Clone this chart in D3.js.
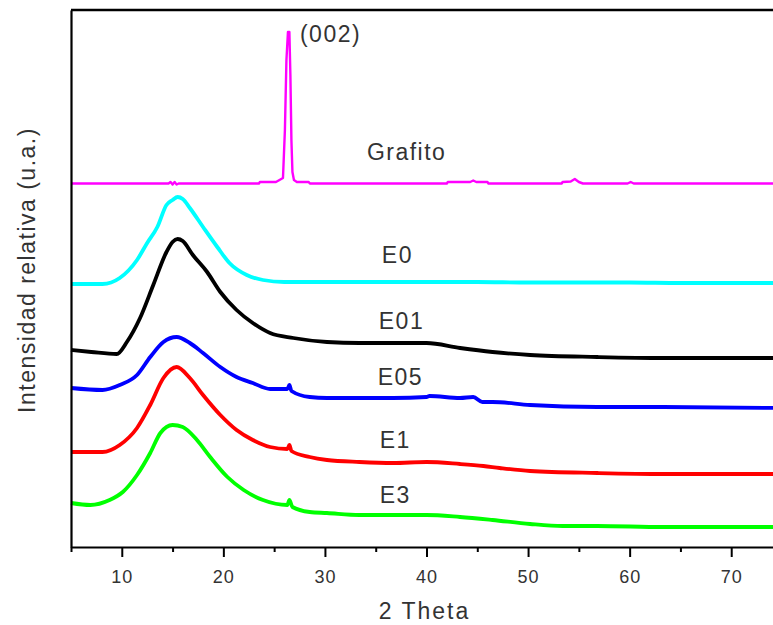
<!DOCTYPE html>
<html>
<head>
<meta charset="utf-8">
<script src="https://cdn.jsdelivr.net/npm/d3@7"></script>
<style>
  html, body { margin: 0; padding: 0; background: #fff; }
  svg { display: block; }
  text { font-family: "Liberation Sans", Arial, sans-serif; fill: #333; }
</style>
</head>
<body>
<svg id="chart" width="773" height="625"></svg>
<script>
// ---- Data (2 Theta, relative intensity in a.u., stacked offsets as in the figure) ----
const grafito = [[5,363.5],[14.6,363.5],[14.8,365],[15.0,362.5],[15.2,365],[15.4,362.5],[15.6,363.5],[23.5,363.5],[23.6,365],[25.18,365],[25.87,369],[26.06,417],[26.21,487],[26.36,515],[26.5,515],[26.6,472],[26.7,407],[26.8,375],[26.95,367],[27.24,365],[28.4,365],[28.52,363.5],[42.0,363.5],[42.1,365],[44.3,365],[44.6,366.5],[44.9,365],[46.0,365],[46.1,363.5],[53.3,363.5],[53.4,365],[54.2,365.5],[54.6,368],[55.0,365],[55.4,363.5],[59.8,363.5],[60.1,365],[60.4,363.5],[75,363.5]];
const e0 = [[5,263],[8.1,263],[9.8,269],[11.5,287],[12.5,304],[13.5,320],[14.4,342],[15.0,347],[15.5,350],[16.0,348],[16.7,339],[18,320],[19.4,300],[20.6,284],[22.3,272],[23.9,267],[26,265],[30,265],[35,265],[40,265],[45,265],[50,264.5],[55,264.5],[60,264.5],[65,264],[70,264],[75,264]];
const e01 = [[5,197],[7,195],[9.5,193],[10.5,205],[11.8,229],[13.1,262],[14.4,295],[15,305],[15.5,308],[16,306],[17,292],[18.4,275],[19.7,255],[21.3,237],[22.9,224],[24.6,214],[26.9,209],[30.2,205],[33.4,204],[36.7,204],[40,204],[43.3,199],[46.5,195],[50.2,192],[56.8,190],[63.3,189],[75,189]];
const e05 = [[5,159],[8.1,157],[9.8,162],[11.5,172],[12.8,190],[14.1,205],[15.4,210],[16.7,204],[18,194],[19.7,180],[21.3,170],[22.9,164],[24.6,158],[26.3,158],[26.5,162],[26.7,156],[28.5,150],[30.2,149],[33.4,149],[36.7,149],[40,150],[40.3,151],[43.3,149],[44.6,150],[45.5,145],[46.5,145],[50.2,142],[56.8,140],[63.3,140],[75,139]];
const e1 = [[5,95],[8.1,95],[9.8,102],[11.5,119],[12.8,142],[14.1,169],[15.4,180],[16.7,169],[18,152],[19.7,132],[21.3,117],[22.9,107],[24.6,100],[26.3,98],[26.5,102],[26.7,96],[28.5,90],[30.2,87],[33.4,85],[36.7,84],[40,85],[43.3,83],[45.6,81],[47.2,79],[50.2,76],[56.8,74],[63.3,73],[75,73]];
const e3 = [[5,44],[6.9,42],[8.8,47],[10.1,55],[11.5,72],[12.8,94],[13.8,114],[15,122],[16,120],[17.4,107],[18.7,90],[20.4,70],[22,57],[23.9,47],[26.3,42],[26.5,47],[26.8,40],[28.5,35],[30.2,34],[33.4,32],[36.7,32],[40,32],[43.3,30],[46.5,27],[50.2,23],[53.4,21],[56.8,21],[63.3,20],[75,20]];

const seriesNames = ["Grafito","E0","E01","E05","E1","E3"];
const seriesData = [grafito, e0, e01, e05, e1, e3];
const seriesColors = ["#ff00ff","#00ffff","#000000","#0000ff","#ff0000","#00ff00"];

const labelTexts = ["(002)","Grafito","E0","E01","E05","E1","E3"];
const labelX = [27.54, 34.13, 35.6, 35.3, 35.2, 35.4, 35.4];
const labelY = [505, 387, 284, 218, 162, 99, 44];

const xMajorTicks = [10,20,30,40,50,60,70];
const xMinorTicks = [5,15,25,35,45,55,65,75];
const xDomain = [5, 75];
const yDomain = [0, 537];

// ---- Layout ----
const svg = d3.select("#chart");
const mLeft = 71, mRight = 782, mTop = 10, mBottom = 547;

const x = d3.scaleLinear().domain(xDomain).range([mLeft, mRight]);
const y = d3.scaleLinear().domain(yDomain).range([mBottom, mTop]);

// curves
const lineSharp = d3.line().x(d => x(d[0])).y(d => y(d[1])).curve(d3.curveLinear);
const lineSmooth = d3.line().x(d => x(d[0])).y(d => y(d[1])).curve(d3.curveMonotoneX);
seriesData.forEach((data, i) => {
  svg.append("path")
    .datum(data)
    .attr("fill", "none")
    .attr("stroke", seriesColors[i])
    .attr("stroke-width", i === 0 ? 2.4 : 3.8)
    .attr("stroke-linejoin", "round")
    .attr("d", i === 0 ? lineSharp : lineSmooth);
});

// top border
svg.append("line")
  .attr("x1", mLeft).attr("x2", mRight)
  .attr("y1", mTop).attr("y2", mTop)
  .attr("stroke", "#000").attr("stroke-width", 2.5);

// x axis minor ticks
svg.append("g")
  .attr("transform", `translate(0,${mBottom})`)
  .call(d3.axisBottom(x).tickValues(xMinorTicks).tickSize(5).tickSizeOuter(0).tickFormat(""))
  .call(g => g.selectAll("line").attr("stroke-width", 2))
  .call(g => g.select(".domain").remove());

// x axis major
const gx = svg.append("g")
  .attr("transform", `translate(0,${mBottom})`)
  .call(d3.axisBottom(x).tickValues(xMajorTicks).tickSize(10).tickSizeOuter(0).tickPadding(13).tickFormat(d3.format("d")));
gx.select(".domain").attr("stroke-width", 2.2);
gx.selectAll(".tick line").attr("stroke-width", 2);
gx.selectAll(".tick text")
  .style("font-family", '"Liberation Sans", Arial, sans-serif')
  .style("font-size", "18px")
  .style("letter-spacing", "1px")
  .attr("fill", "#333");

// y axis (no ticks)
const gy = svg.append("g")
  .attr("transform", `translate(${mLeft},0)`)
  .call(d3.axisLeft(y).tickValues([]).tickSizeOuter(0));
gy.select(".domain").attr("stroke-width", 2.2);

// axis titles
svg.append("text")
  .attr("x", (mLeft + mRight) / 2 - 2)
  .attr("y", 619)
  .attr("text-anchor", "middle")
  .style("font-size", "23px")
  .style("letter-spacing", "2px")
  .text("2 Theta");

svg.append("text")
  .attr("transform", `translate(35,270) rotate(-90)`)
  .attr("text-anchor", "middle")
  .style("font-size", "23px")
  .style("letter-spacing", "1.5px")
  .text("Intensidad relativa (u.a.)");

// curve labels
labelTexts.forEach((t, i) => {
  svg.append("text")
    .attr("x", x(labelX[i]))
    .attr("y", y(labelY[i]))
    .style("font-size", "23px")
    .style("letter-spacing", "1.5px")
    .text(t);
});
</script>
</body>
</html>
